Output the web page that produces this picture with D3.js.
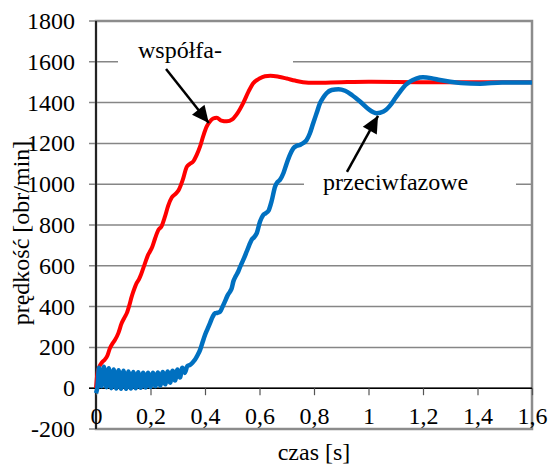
<!DOCTYPE html>
<html>
<head>
<meta charset="utf-8">
<script src="https://cdnjs.cloudflare.com/ajax/libs/d3/7.8.5/d3.min.js"></script>
</head>
<body style="margin:0;background:#fff">
<svg width="550" height="468"></svg>
<script>
// predkosc w funkcji czasu: [t (s), n (obr/min)]
var wspolfazowe = [[0,0],[0.004,60],[0.012,105],[0.021,125],[0.032,140],[0.042,160],[0.051,196],[0.061,220],
  [0.07,237],[0.082,270],[0.094,318],[0.104,345],[0.113,368],[0.122,405],[0.131,449],[0.14,485],[0.149,515],
  [0.158,535],[0.166,560],[0.18,613],[0.19,650],[0.198,670],[0.207,695],[0.217,735],[0.229,776],[0.241,795],
  [0.253,841],[0.265,895],[0.278,935],[0.29,950],[0.303,970],[0.318,1020],[0.333,1085],[0.345,1100],
  [0.357,1112],[0.37,1145],[0.382,1185],[0.394,1238],[0.406,1282],[0.418,1307],[0.43,1322],[0.443,1326],
  [0.46,1312],[0.48,1308],[0.5,1318],[0.52,1350],[0.541,1400],[0.56,1455],[0.577,1495],[0.6,1518],
  [0.62,1529],[0.64,1532],[0.67,1527],[0.7,1518],[0.73,1508],[0.76,1500],[0.8,1497],[0.9,1500],
  [1.0,1502],[1.2,1500],[1.6,1500]];

var przeciwfazowe = [[0,-25],[0.005,5],[0.011,100],[0.02,10],[0.029,105],[0.038,5],[0.047,98],[0.056,0],
  [0.065,92],[0.074,-2],[0.083,88],[0.092,-3],[0.101,85],[0.11,-3],[0.119,82],[0.128,-2],[0.137,80],
  [0.146,0],[0.155,78],[0.164,2],[0.173,76],[0.182,4],[0.191,76],[0.2,6],[0.209,76],[0.218,9],[0.227,77],
  [0.236,13],[0.245,79],[0.254,19],[0.263,82],[0.272,27],[0.281,86],[0.29,38],[0.299,92],[0.308,52],
  [0.317,100],[0.326,75],[0.335,108],[0.345,114],[0.354,125],[0.363,139],[0.372,160],[0.382,188],
  [0.391,225],[0.4,261],[0.409,290],[0.418,318],[0.428,350],[0.437,368],[0.446,370],[0.455,375],
  [0.464,398],[0.473,424],[0.483,455],[0.492,474],[0.498,490],[0.504,523],[0.513,550],[0.522,572],
  [0.528,592],[0.535,613],[0.544,640],[0.553,670],[0.562,700],[0.571,727],[0.58,740],[0.59,760],
  [0.602,817],[0.614,850],[0.623,858],[0.633,870],[0.645,920],[0.657,988],[0.666,1010],[0.675,1021],
  [0.688,1055],[0.7,1103],[0.712,1145],[0.724,1176],[0.737,1188],[0.749,1193],[0.761,1202],[0.773,1217],
  [0.785,1250],[0.797,1299],[0.81,1350],[0.822,1397],[0.834,1425],[0.846,1446],[0.865,1462],[0.89,1466],
  [0.914,1458],[0.94,1436],[0.969,1405],[1.0,1368],[1.03,1348],[1.055,1356],[1.079,1385],[1.1,1425],
  [1.116,1454],[1.135,1485],[1.152,1503],[1.175,1518],[1.2,1524],[1.23,1520],[1.262,1511],[1.3,1502],
  [1.34,1496],[1.41,1493],[1.49,1498],[1.6,1498]];

var xTicks = [0, 0.2, 0.4, 0.6, 0.8, 1, 1.2, 1.4, 1.6];
var yTicks = [-200, 0, 200, 400, 600, 800, 1000, 1200, 1400, 1600, 1800];

// opisy: tekst, poczatek strzalki, koniec strzalki [t, n]
var opisy = [
  {tekst: "współfa-", od: [0.257, 1565], do: [0.414, 1300]},
  {tekst: "przeciwfazowe", od: [0.921, 1060], do: [1.035, 1335]}
];

(function() {
var FONT = "'Liberation Serif'";
var pl = d3.formatLocale({decimal: ",", thousands: "", grouping: [3], currency: ["", ""], minus: "-"});
var fmt = pl.format("~g");

var svg = d3.select("svg");
var pLeft = 96, pTop = 21, pRight = 532, pBottom = 429;

var x = d3.scaleLinear().domain([0, 1.6]).range([pLeft, pRight]);
var y = d3.scaleLinear().domain([-200, 1800]).range([pBottom, pTop]);

function txt(sel) {
  return sel.style("font-family", FONT).attr("font-size", 24).attr("fill", "#000");
}

// siatka
svg.append("g").selectAll("line")
  .data(yTicks)
  .enter().append("line")
  .attr("x1", pLeft - 7).attr("x2", pRight)
  .attr("y1", function(d) { return y(d); })
  .attr("y2", function(d) { return y(d); })
  .attr("stroke", "#868686")
  .attr("stroke-width", 1.5);

// ramka wykresu
svg.append("rect")
  .attr("x", pLeft).attr("y", pTop)
  .attr("width", pRight - pLeft).attr("height", pBottom - pTop)
  .attr("fill", "none")
  .attr("stroke", "#8c8c8c")
  .attr("stroke-width", 2.5);

// biale tla opisow
svg.append("rect").attr("x", 118).attr("y", 44).attr("width", 175).attr("height", 27).attr("fill", "#fff");
svg.append("rect").attr("x", 304).attr("y", 166).attr("width", 212).attr("height", 36).attr("fill", "#fff");

// osie
svg.append("line")
  .attr("x1", pLeft).attr("x2", pLeft).attr("y1", pTop).attr("y2", pBottom)
  .attr("stroke", "#000").attr("stroke-width", 1.5);

var xAxis = d3.axisBottom(x).tickValues(xTicks).tickSize(7).tickFormat(fmt);
var gx = svg.append("g").attr("transform", "translate(0," + y(0) + ")").call(xAxis);
gx.select(".domain").attr("d", "M" + (pLeft - 7) + ",0H" + pRight).attr("stroke", "#000").attr("stroke-width", 1.5);
gx.selectAll(".tick line").attr("stroke", "#555").attr("stroke-width", 1.2);
gx.selectAll(".tick text")
  .attr("y", 424 - y(0)).attr("dy", null)
  .call(txt);

svg.append("g").selectAll("text")
  .data(yTicks)
  .enter().append("text")
  .attr("x", 75)
  .attr("y", function(d) { return y(d) + 8; })
  .attr("text-anchor", "end")
  .text(function(d) { return fmt(d); })
  .call(txt);

// tytuly osi
svg.append("text")
  .attr("transform", "translate(29,233) rotate(-90)")
  .attr("text-anchor", "middle")
  .text("prędkość [obr/min]")
  .call(txt);

svg.append("text")
  .attr("x", 314).attr("y", 460)
  .attr("text-anchor", "middle")
  .text("czas [s]")
  .call(txt);

// przebiegi
var line = d3.line()
  .x(function(d) { return x(d[0]); })
  .y(function(d) { return y(d[1]); })
  .curve(d3.curveMonotoneX);

svg.append("path").datum(wspolfazowe)
  .attr("d", line)
  .attr("fill", "none")
  .attr("stroke", "#ff0000")
  .attr("stroke-width", 4)
  .attr("stroke-linejoin", "round");

svg.append("path").datum(przeciwfazowe)
  .attr("d", line)
  .attr("fill", "none")
  .attr("stroke", "#0070c0")
  .attr("stroke-width", 4.5)
  .attr("stroke-linejoin", "round");

// strzalki i opisy
svg.append("defs").append("marker")
  .attr("id", "grot")
  .attr("markerUnits", "userSpaceOnUse")
  .attr("markerWidth", 20).attr("markerHeight", 20)
  .attr("refX", 0).attr("refY", 0)
  .attr("viewBox", "-18 -9 20 18")
  .attr("orient", "auto")
  .append("path")
  .attr("d", "M0,0L-17,-8L-17,8Z")
  .attr("fill", "#000");

svg.append("g").selectAll("line")
  .data(opisy)
  .enter().append("line")
  .attr("x1", function(d) { return x(d.od[0]); })
  .attr("y1", function(d) { return y(d.od[1]); })
  .attr("x2", function(d) { return x(d.do[0]); })
  .attr("y2", function(d) { return y(d.do[1]); })
  .attr("stroke", "#000")
  .attr("stroke-width", 2.5)
  .attr("marker-end", "url(#grot)");

svg.append("text").attr("x", 138).attr("y", 58).text(opisy[0].tekst).call(txt);
svg.append("text").attr("x", 323).attr("y", 190).text(opisy[1].tekst).call(txt);
})();
</script>
</body>
</html>
